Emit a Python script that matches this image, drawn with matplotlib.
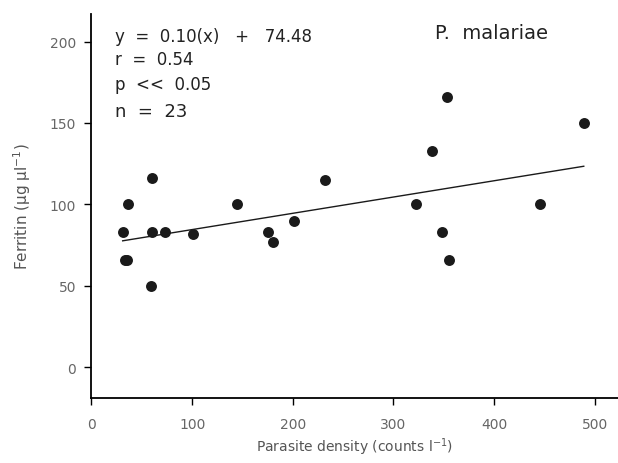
import numpy as np
import matplotlib
matplotlib.use('Agg')
import matplotlib.pyplot as plt

plt.rcParams['font.family'] = ['DejaVu Sans']

# parasite density vs ferritin
density = [31, 33, 35, 36, 60, 60, 59, 73, 101, 145, 175, 180, 201, 232,
           322, 338, 348, 353, 355, 446, 489]
ferritin = [83, 66, 66, 100, 116, 83, 50, 83, 82, 100, 83, 77, 90, 115,
            100, 133, 83, 166, 66, 100, 150]

slope = 0.10
intercept = 74.48

fig = plt.figure(figsize=(6.18, 4.64), dpi=100)
ax = fig.add_axes([0.148, 0.140, 0.852, 0.828])

ax.scatter(density, ferritin, s=62, color='#1a1a1a', zorder=3, linewidths=0)
xl = np.array([min(density), max(density)])
ax.plot(xl, slope * xl + intercept, color='#1a1a1a', lw=1.0)

ax.set_xlim(0, 523)
ax.set_ylim(-19, 217)
ax.set_xticks([0, 100, 200, 300, 400, 500])
ax.set_yticks([0, 50, 100, 150, 200])
ax.spines['top'].set_visible(False)
ax.spines['right'].set_visible(False)
ax.spines['left'].set_linewidth(1.3)
ax.spines['bottom'].set_linewidth(1.3)
ax.tick_params(direction='out', length=5, width=1, labelsize=10,
               labelcolor='#666666')
ax.tick_params(axis='x', pad=9)
ax.tick_params(axis='y', pad=6)

ax.set_xlabel('Parasite density (counts l$^{-1}$)', fontsize=10, color='#555555', labelpad=3)
ax.set_ylabel('Ferritin (\u00b5g \u00b5l$^{-1}$)', fontsize=11, color='#555555', labelpad=12)

txt = dict(transform=ax.transAxes, va='center', color='#222222')
ax.text(0.045, 0.943, 'y  =  0.10(x)   +   74.48', fontsize=12, **txt)
ax.text(0.045, 0.883, 'r  =  0.54', fontsize=12, **txt)
ax.text(0.045, 0.818, 'p  <<  0.05', fontsize=12, **txt)
ax.text(0.045, 0.747, 'n  =  23', fontsize=13, **txt)
ax.text(0.652, 0.952, 'P.  malariae', fontsize=14, **txt)

fig.savefig('out.png', dpi=100)
